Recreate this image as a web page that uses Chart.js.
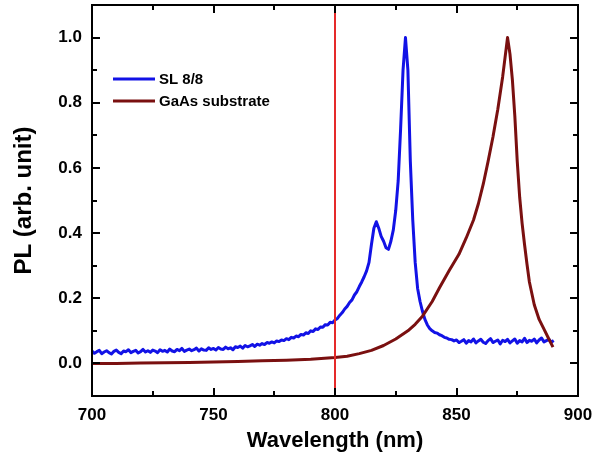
<!DOCTYPE html>
<html>
<head>
<meta charset="utf-8">
<script src="https://cdn.jsdelivr.net/npm/chart.js@4.4.1/dist/chart.umd.min.js"></script>
<style>
  html, body { margin: 0; padding: 0; background: #fff; }
  #wrap { width: 594px; height: 465px; }
</style>
</head>
<body>
<div id="wrap"><canvas id="pl" width="594" height="465"></canvas></div>
<script>
// axis ticks
const xMajor = [700, 750, 800, 850, 900];
const xMinor = [725, 775, 825, 875];
const yMajor = [0.0, 0.2, 0.4, 0.6, 0.8, 1.0];
const yMinor = [0.1, 0.3, 0.5, 0.7, 0.9];

// SL 8/8 spectrum, sampled every 1 nm from 700 nm
const slStart = 700;
const slIntensity = [
  .038, .031, .036, .040, .030, .035, .039, .033, .029, .037,
  .041, .034, .030, .038, .036, .042, .033, .037, .040, .032,
  .036, .043, .035, .039, .034, .041, .038, .033, .042, .037,
  .040, .035, .044, .038, .036, .043, .039, .046, .037, .041,
  .044, .039, .042, .047, .038, .045, .041, .040, .048, .043,
  .046, .041, .049, .044, .043, .050, .045, .048, .042, .051,
  .049, .053, .047, .055, .051, .054, .058, .052, .059, .056,
  .061, .058, .064, .062, .066, .063, .069, .067, .072, .070,
  .076, .073, .080, .078, .084, .082, .089, .087, .094, .092,
  .100, .098, .106, .104, .112, .111, .119, .118, .126, .125,
  .133, .138, .148, .156, .167, .175, .187, .195, .210, .220,
  .236, .250, .266, .284, .310, .365, .415, .435, .415, .390,
  .375, .355, .350, .375, .410, .470, .560, .720, .900, 1.00,
  .900, .620, .440, .310, .230, .190, .160, .135, .118, .107,
  .100, .095, .093, .088, .085, .080, .078, .074, .073, .069,
  .072, .064, .068, .073, .062, .070, .066, .075, .063, .069,
  .074, .065, .061, .070, .076, .064, .068, .072, .060, .071,
  .067, .074, .063, .069, .075, .062, .070, .066, .077, .064,
  .071, .068, .075, .063, .072, .078, .066, .070, .074, .065,
  .070
];

// GaAs substrate spectrum
const gaasWavelength = [
  700, 710, 720, 730, 740, 750, 760, 770, 780, 790,
  800, 805, 810, 815, 820, 825, 830,
  833, 836, 840, 843, 847, 851, 854, 857, 859, 861, 863, 865, 867, 869, 870, 871,
  872, 873, 874, 875, 876, 877, 878, 879, 880,
  882, 884, 886, 888, 889.7
];
const gaasIntensity = [
  .000, .000, .001, .002, .003, .004, .006, .008, .010, .013,
  .018, .022, .030, .040, .055, .075, .100,
  .120, .145, .190, .232, .285, .335, .385, .440, .490, .550, .620, .695, .780, .880, .940, 1.00,
  .950, .870, .760, .620, .510, .430, .365, .305, .250,
  .180, .135, .105, .075, .050
];

// reference wavelength marker
const markerWavelength = 800;
const yRange = [-0.1, 1.1];

const BLUE = '#1212e6';
const BROWN = '#7a1010';
const RED = '#e52a2a';
const FONT = 'Liberation Sans, Arial, sans-serif';

const slPoints = slIntensity.map((v, i) => ({ x: slStart + i, y: v }));
const gaasPoints = gaasWavelength.map((w, i) => ({ x: w, y: gaasIntensity[i] }));
const markerPoints = yRange.map(v => ({ x: markerWavelength, y: v }));

// frame, inward ticks on all four sides, and the legend box
const framePlugin = {
  id: 'frame',
  afterDraw(chart) {
    const { ctx, chartArea: a, scales } = chart;
    const xs = scales.x, ys = scales.y;
    ctx.save();
    ctx.strokeStyle = '#000';
    ctx.lineWidth = 2;
    ctx.strokeRect(a.left, a.top, a.right - a.left, a.bottom - a.top);

    const tick = (vals, len) => {
      vals.forEach(v => {
        const px = Math.round(xs.getPixelForValue(v));
        ctx.beginPath();
        ctx.moveTo(px, a.bottom); ctx.lineTo(px, a.bottom - len);
        ctx.moveTo(px, a.top); ctx.lineTo(px, a.top + len);
        ctx.stroke();
      });
    };
    const ytick = (vals, len) => {
      vals.forEach(v => {
        const py = Math.round(ys.getPixelForValue(v));
        ctx.beginPath();
        ctx.moveTo(a.left, py); ctx.lineTo(a.left + len, py);
        ctx.moveTo(a.right, py); ctx.lineTo(a.right - len, py);
        ctx.stroke();
      });
    };
    tick(xMajor, 8); tick(xMinor, 5);
    ytick(yMajor, 8); ytick(yMinor, 5);

    // legend
    const items = chart.data.datasets.filter(d => d.label);
    ctx.font = 'bold 15px ' + FONT;
    ctx.textBaseline = 'middle';
    ctx.fillStyle = '#000';
    items.forEach((d, i) => {
      const y = 79 + i * 22;
      ctx.strokeStyle = d.borderColor;
      ctx.lineWidth = 3;
      ctx.beginPath();
      ctx.moveTo(113, y); ctx.lineTo(155, y);
      ctx.stroke();
      ctx.fillText(d.label, 159, y + 1);
    });
    ctx.restore();
  }
};

const tickFont = { family: FONT, weight: 'bold', size: 17 };

new Chart(document.getElementById('pl').getContext('2d'), {
  type: 'line',
  data: {
    datasets: [
      {
        label: '',
        data: markerPoints,
        borderColor: RED,
        borderWidth: 2,
        pointRadius: 0,
        order: 0
      },
      {
        label: 'SL 8/8',
        data: slPoints,
        borderColor: BLUE,
        borderWidth: 3,
        borderJoinStyle: 'round',
        pointRadius: 0,
        tension: 0,
        order: 2
      },
      {
        label: 'GaAs substrate',
        data: gaasPoints,
        borderColor: BROWN,
        borderWidth: 3,
        borderJoinStyle: 'round',
        pointRadius: 0,
        tension: 0,
        order: 1
      }
    ]
  },
  options: {
    responsive: false,
    animation: false,
    devicePixelRatio: 1,
    layout: { padding: { top: 5, right: 16, left: 0, bottom: 0 } },
    plugins: {
      legend: { display: false },
      tooltip: { enabled: false }
    },
    scales: {
      x: {
        type: 'linear',
        min: 700,
        max: 900,
        afterBuildTicks: s => { s.ticks = xMajor.map(v => ({ value: v })); },
        afterFit: s => { s.height = 69; s.paddingLeft = 0; s.paddingRight = 0; },
        grid: { display: false, drawTicks: false },
        border: { display: false },
        ticks: { font: tickFont, color: '#000', padding: 9, maxRotation: 0 },
        title: {
          display: true,
          text: 'Wavelength (nm)',
          color: '#000',
          font: { family: FONT, weight: 'bold', size: 22 },
          padding: { top: 0, bottom: 11 }
        }
      },
      y: {
        min: yRange[0],
        max: yRange[1],
        afterBuildTicks: s => { s.ticks = yMajor.map(v => ({ value: v })); },
        afterFit: s => { s.width = 92; s.paddingTop = 0; s.paddingBottom = 0; },
        grid: { display: false, drawTicks: false },
        border: { display: false },
        ticks: { font: tickFont, color: '#000', padding: 10, callback: v => v.toFixed(1) },
        title: {
          display: true,
          text: 'PL (arb. unit)',
          color: '#000',
          font: { family: FONT, weight: 'bold', size: 24 },
          padding: { top: 10, bottom: 0 }
        }
      }
    }
  },
  plugins: [framePlugin]
});
</script>
</body>
</html>
